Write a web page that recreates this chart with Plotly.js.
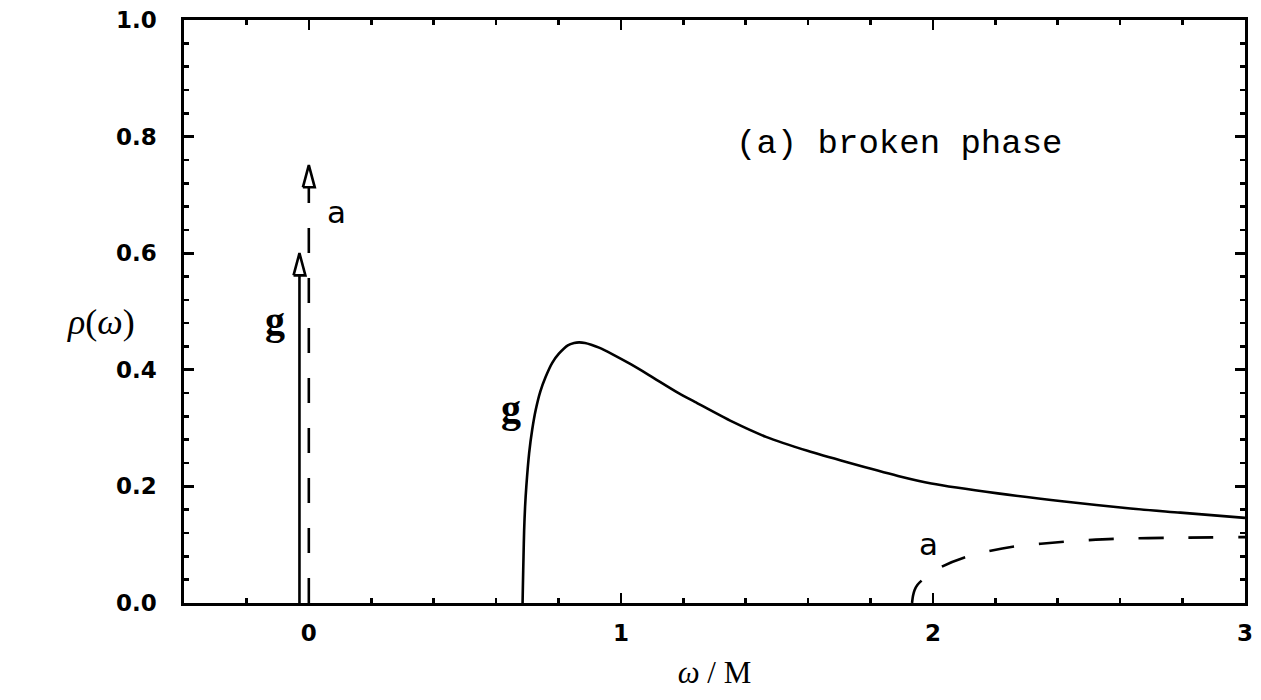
<!DOCTYPE html>
<html>
<head>
<meta charset="utf-8">
<script src="https://cdn.plot.ly/plotly-3.0.1.min.js"></script>
<style>
  body { margin: 0; background: #fff; }
  #plotArea { width: 1261px; height: 700px; }
</style>
</head>
<body>
<div id="plotArea"></div>
<script>
// continuum part of rho_g (solid)
var gX = [0.685, 0.686, 0.688, 0.690, 0.693, 0.697, 0.706, 0.716, 0.727, 0.742, 0.759, 0.780, 0.802, 0.83, 0.850, 0.866, 0.885, 0.905, 0.930, 0.972, 1.03, 1.09, 1.185, 1.237, 1.357, 1.465, 1.598, 1.728, 1.888, 1.995, 2.208, 2.421, 2.633, 2.793, 3.0];
var gY = [0.0, 0.03, 0.08, 0.125, 0.165, 0.20, 0.257, 0.298, 0.331, 0.363, 0.388, 0.412, 0.428, 0.442, 0.446, 0.447, 0.446, 0.443, 0.438, 0.427, 0.410, 0.391, 0.360, 0.345, 0.311, 0.285, 0.261, 0.241, 0.218, 0.205, 0.188, 0.174, 0.162, 0.155, 0.146];

// continuum part of rho_a (dashed)
var aX = [1.933, 1.936, 1.941, 1.950, 1.965, 1.990, 2.027, 2.101, 2.180, 2.261, 2.421, 2.581, 2.793, 3.0];
var aY = [0.0, 0.012, 0.022, 0.031, 0.039, 0.050, 0.062, 0.078, 0.089, 0.097, 0.105, 0.110, 0.112, 0.113];

// delta-function poles drawn as arrows: g (solid) and a (dashed)
var deltaX = [-0.03, 0.0];
var deltaH = [0.60, 0.751];
var deltaDash = ['solid', '25px,25px'];

var headW = 0.019, headH = 0.038;
var ink = '#000';
var lw = 2.6;

var traces = [];
traces.push({x: gX, y: gY, type: 'scatter', mode: 'lines',
  line: {color: ink, width: lw, shape: 'spline', smoothing: 0.8}, hoverinfo: 'none'});
traces.push({x: aX, y: aY, type: 'scatter', mode: 'lines',
  line: {color: ink, width: lw, dash: '25px,25px', shape: 'spline', smoothing: 0.8}, hoverinfo: 'none'});

for (var i = 0; i < deltaX.length; i++) {
  var xi = deltaX[i], hi = deltaH[i];
  traces.push({x: [xi, xi], y: [0, hi - headH], type: 'scatter', mode: 'lines',
    line: {color: ink, width: lw, dash: deltaDash[i]}, hoverinfo: 'none'});
  traces.push({x: [xi - headW, xi, xi + headW, xi - headW], y: [hi - headH, hi, hi - headH, hi - headH],
    type: 'scatter', mode: 'lines', fill: 'toself', fillcolor: '#fff',
    line: {color: ink, width: lw}, hoverinfo: 'none'});
}

var tickFont = {family: 'DejaVu Sans', size: 23, color: ink, weight: 'bold'};
var serif = 'Liberation Serif';

var layout = {
  width: 1261, height: 700,
  margin: {l: 184, r: 16, t: 20, b: 97},
  paper_bgcolor: '#fff', plot_bgcolor: '#fff',
  showlegend: false,
  xaxis: {
    range: [-0.4, 3], tickvals: [0, 1, 2, 3], ticks: 'inside', ticklen: 10, tickwidth: 2.6, tickcolor: ink,
    showline: true, linewidth: 2.6, linecolor: ink, mirror: 'ticks', showgrid: false, zeroline: false,
    minor: {tick0: 0, dtick: 0.2, ticks: 'inside', ticklen: 5, tickwidth: 2.6, tickcolor: ink, showgrid: false},
    tickfont: tickFont, ticklabelstandoff: 8,
    title: {text: '<i>ω</i> / M', font: {family: serif, size: 31, color: ink}, standoff: 16}
  },
  yaxis: {
    range: [0, 1], dtick: 0.2, tickformat: '.1f', ticks: 'inside', ticklen: 10, tickwidth: 2.6, tickcolor: ink,
    showline: true, linewidth: 2.6, linecolor: ink, mirror: 'ticks', showgrid: false, zeroline: false,
    minor: {dtick: 0.04, ticks: 'inside', ticklen: 5, tickwidth: 2.6, tickcolor: ink, showgrid: false},
    tickfont: tickFont, ticklabelstandoff: 20
  },
  annotations: [
    {xref: 'paper', yref: 'paper', x: -0.112, y: 0.482, text: '<i>ρ</i>(<i>ω</i>)', showarrow: false,
      font: {family: serif, size: 36, color: ink}},
    {x: 1.361, y: 0.788, xanchor: 'left', text: '(a) broken phase', showarrow: false,
      font: {family: 'Liberation Mono', size: 34, color: ink}},
    {x: -0.109, y: 0.485, text: 'g', showarrow: false, font: {family: serif, size: 40, color: ink, weight: 'bold'}},
    {x: 0.09, y: 0.67, text: 'a', showarrow: false, font: {family: 'DejaVu Sans', size: 31, color: ink}},
    {x: 0.648, y: 0.334, text: 'g', showarrow: false, font: {family: serif, size: 40, color: ink, weight: 'bold'}},
    {x: 1.986, y: 0.102, text: 'a', showarrow: false, font: {family: 'DejaVu Sans', size: 31, color: ink}}
  ]
};

Plotly.newPlot('plotArea', traces, layout, {staticPlot: true, displayModeBar: false});
</script>
</body>
</html>
